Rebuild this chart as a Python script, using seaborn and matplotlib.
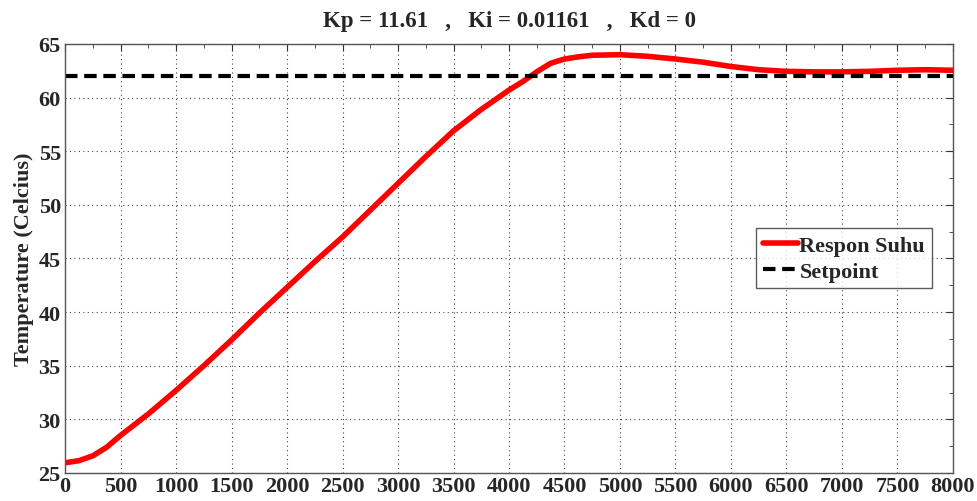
import numpy as np
import pandas as pd
import matplotlib
matplotlib.use("Agg")
import matplotlib.pyplot as plt
import seaborn as sns
from matplotlib.ticker import MultipleLocator

# ---------------- data ----------------
time_s = [0, 125, 250, 375, 500, 750, 1000, 1250, 1500, 1750, 2000, 2250, 2500,
          2750, 3000, 3250, 3500, 3750, 4000, 4125, 4250, 4375, 4500, 4625,
          4750, 5000, 5250, 5500, 5750, 6000, 6250, 6500, 6750, 7000, 7250,
          7500, 7750, 8000]
temp_c = [25.95, 26.15, 26.6, 27.4, 28.5, 30.5, 32.7, 35.0, 37.4, 39.9, 42.3,
          44.7, 47.0, 49.5, 52.0, 54.5, 56.9, 58.9, 60.7, 61.5, 62.4, 63.2,
          63.6, 63.8, 63.95, 64.0, 63.85, 63.6, 63.3, 62.9, 62.6, 62.45, 62.4,
          62.4, 62.45, 62.55, 62.6, 62.55]
setpoint = 62

df = pd.DataFrame({"time": time_s, "temp": temp_c})
sp = pd.DataFrame({"time": [0, 8000], "temp": [setpoint, setpoint]})

# ---------------- plot ----------------
sns.set_style("white")
plt.rcParams["font.family"] = ["Liberation Serif", "DejaVu Serif"]
plt.rcParams["font.weight"] = "bold"

fig = plt.figure(figsize=(9.78, 5.02), dpi=100)
ax = fig.add_axes([0.0665, 0.0558, 0.9079, 0.8546])

sns.lineplot(data=df, x="time", y="temp", ax=ax, color="#ff0000", lw=4.0,
             label="Respon Suhu")
sns.lineplot(data=sp, x="time", y="temp", ax=ax, color="black", lw=3.0,
             label="Setpoint", dashes=False)
ax.lines[-1].set_linestyle((0, (3, 1.6)))

ax.set_xlim(0, 8000)
ax.set_ylim(25, 65)
ax.xaxis.set_major_locator(MultipleLocator(500))
ax.xaxis.set_minor_locator(MultipleLocator(250))
ax.yaxis.set_major_locator(MultipleLocator(5))
ax.yaxis.set_minor_locator(MultipleLocator(2.5))
ax.tick_params(which="both", direction="in", top=True, right=True,
               labelsize=16, color="#333333")
ax.tick_params(axis="x", pad=2)
ax.tick_params(axis="y", pad=3)
ax.tick_params(which="major", length=5)
ax.tick_params(which="minor", length=3)
for lab in ax.get_xticklabels() + ax.get_yticklabels():
    lab.set_fontweight("bold")

ax.grid(True, which="major", ls=(0, (1, 3)), color="#444444", lw=0.8)
for s in ax.spines.values():
    s.set_color("#555555")
    s.set_linewidth(1.0)

ax.set_xlabel("")
ax.set_ylabel("Temperature (Celcius)", fontsize=16, fontweight="bold", labelpad=3)
ax.set_title("Kp = 11.61   ,   Ki = 0.01161   ,   Kd = 0", fontsize=16.5,
             fontweight="bold", pad=13)

leg = ax.legend(loc="center right", bbox_to_anchor=(0.976, 0.5),
                prop={"size": 16, "weight": "bold"}, frameon=True,
                fancybox=False, handlelength=1.6, handletextpad=0.05,
                borderpad=0.3, labelspacing=0.25, borderaxespad=0)
leg.get_frame().set_edgecolor("#333333")
leg.get_frame().set_linewidth(1.0)

fig.savefig("out.png", dpi=100)
